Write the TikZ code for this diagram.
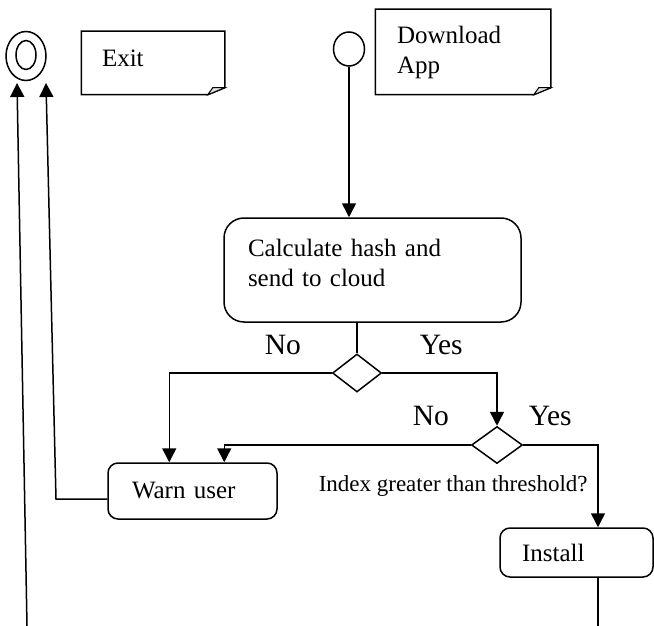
\documentclass[tikz,border=0pt]{standalone}
\usepackage{fontspec}
\setmainfont{Liberation Serif}
\usepackage{tikz}
\usetikzlibrary{positioning}
\usetikzlibrary{calc}
\usetikzlibrary{shapes.geometric}
\usetikzlibrary{arrows.meta}

\begin{document}
\begin{tikzpicture}[x=1pt, y=-1pt, line width=1.5pt,
    txt/.style={font=\fontsize{25pt}{30pt}\selectfont},
    lbl/.style={font=\fontsize{29.5pt}{34pt}\selectfont, inner sep=0pt, anchor=base west},
    note/.style={txt, align=left, inner ysep=0pt},
    activity/.style={txt, draw, rounded corners=10pt, align=left, inner ysep=0pt},
    decision/.style={draw, diamond, inner sep=0pt, minimum width=49pt, minimum height=38pt},
    arrow/.style={-{Triangle[length=14pt, width=14pt]}},
]
    \useasboundingbox (0,0) rectangle (654,626);

    % start / end
    \node[draw, ellipse, minimum width=31pt, minimum height=34pt, inner sep=0pt] (start) at (349,49) {};
    \node[draw, ellipse, minimum width=40pt, minimum height=49pt, inner sep=0pt] (exit) at (26,56) {};
    \node[draw, ellipse, minimum width=20pt, minimum height=29pt, inner sep=0pt] (exit_in) at (26,55) {};

    % notes
    \node[note, text width=102pt, inner xsep=20pt, minimum height=62pt, text depth=9pt] (exit_note) at (153,63) {Exit};
    \node[note, text width=132pt, inner xsep=21pt, minimum height=84pt] (app_note) at (463,52) {Download\\App};
    \foreach \n in {exit_note,app_note} {
        \draw (\n.north west) -- (\n.north east) -- ($(\n.south east)+(0,-7)$) -- ($(\n.south east)+(-17,0)$) -- (\n.south west) -- cycle;
        \filldraw[fill=gray!25, line width=1pt] ($(\n.south east)+(-17,0)$) -- ($(\n.south east)+(-12,-7)$) -- ($(\n.south east)+(0,-7)$) -- cycle;
    }

    % activities
    \node[activity, rounded corners=20pt, text width=249pt, inner xsep=24pt, minimum height=104pt, text depth=45pt] (calc) at (372.5,270) {Calculate hash and\\send to cloud};
    \node[activity, text width=121pt, inner xsep=24pt, minimum height=56pt] (warn) at (192.5,491) {Warn user};
    \node[activity, text width=109pt, inner xsep=22pt, minimum height=49pt] (install) at (576.5,552.5) {Install};

    % decisions
    \node[decision] (d1) at (357,373) {};
    \node[decision, minimum width=51pt, minimum height=37pt] (d2) at (497,445) {};

    \node[lbl] (no1) at (264,354) {No};
    \node[lbl] (yes1) at (419,354) {Yes};
    \node[lbl] (no2) at (412,425) {No};
    \node[lbl] (yes2) at (528,425) {Yes};
    \node[font=\fontsize{23pt}{27pt}\selectfont, inner sep=0pt, anchor=base west] (threshold) at (318,491) {Index greater than threshold?};

    \coordinate (bottom_in) at (598,626);
    \coordinate (bottom_out) at (27,626);
    \coordinate (exit_a) at (17,83);
    \coordinate (exit_b) at (46,83);
    \coordinate (warn_bend) at (56,499);

    \draw[arrow] (start) -- (start |- calc.north);
    \draw (d1 |- calc.south) -- (d1.north);
    \draw[arrow] (d1.west) -| ($(warn.north west)+(62,0)$);
    \draw[arrow] (d1.east) -| (d2.north);
    \draw[arrow] (d2.west) -| ($(warn.north west)+(117,0)$);
    \draw[arrow] (d2.east) -| (bottom_in |- install.north);
    \draw (bottom_in |- install.south) -- (bottom_in);
    \draw[arrow] (bottom_out) -- (exit_a);
    \draw[arrow] (warn.west |- warn_bend) -- (warn_bend) -- (exit_b);

\end{tikzpicture}
\end{document}
